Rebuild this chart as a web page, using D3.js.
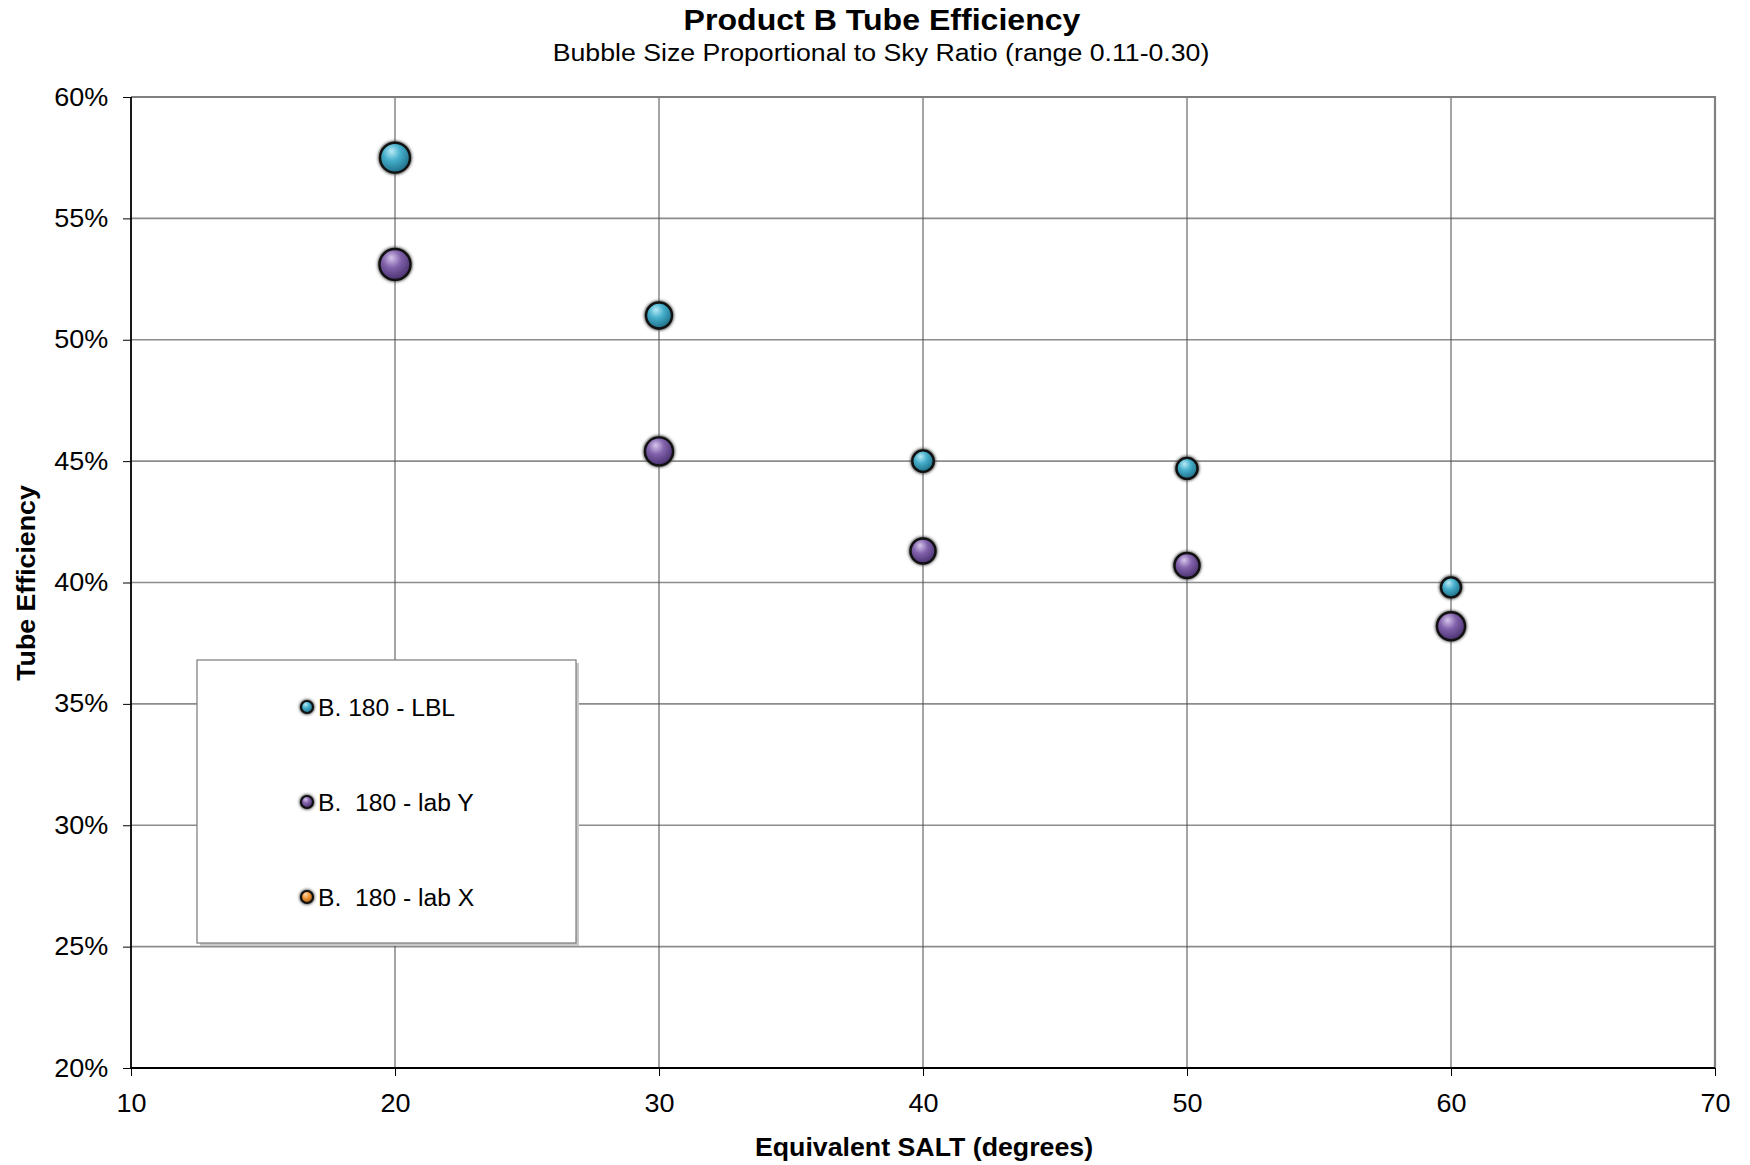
<!DOCTYPE html>
<html>
<head>
<meta charset="utf-8">
<script src="https://cdn.jsdelivr.net/npm/d3@7"></script>
<style>
  html, body { margin: 0; padding: 0; background: #fff; }
  svg { display: block; font-family: "Liberation Sans", Arial, sans-serif; }
  text { white-space: pre; }
</style>
</head>
<body>
<svg id="chart" width="1750" height="1165"></svg>
<script>
// Equivalent SALT angle (degrees) for each measurement
const saltDegrees = [20, 30, 40, 50, 60];

// Tube efficiency per series (fraction)
const lblEfficiency  = [0.575, 0.510, 0.450, 0.447, 0.398];
const labYEfficiency = [0.531, 0.454, 0.413, 0.407, 0.382];
const labXEfficiency = [];

// Sky ratio per point (drives bubble area)
const lblSkyRatio  = [0.28, 0.21, 0.143, 0.138, 0.125];
const labYSkyRatio = [0.30, 0.245, 0.195, 0.195, 0.245];
const labXSkyRatio = [];

// Legend names
const seriesNames = ["B. 180 - LBL", "B.  180 - lab Y", "B.  180 - lab X"];

// Axis ticks
const xTicks = [10, 20, 30, 40, 50, 60, 70];
const yTicks = [0.20, 0.25, 0.30, 0.35, 0.40, 0.45, 0.50, 0.55, 0.60];

const seriesColors = [
  { base: "#45aecb", light: "#b8eaf6", dark: "#1e6f87" },
  { base: "#8262ac", light: "#d6c6ec", dark: "#4a3170" },
  { base: "#f29a3c", light: "#fcd9ae", dark: "#a85c10" }
];

const series = [
  { name: seriesNames[0], x: saltDegrees.slice(0, lblEfficiency.length), y: lblEfficiency, s: lblSkyRatio },
  { name: seriesNames[1], x: saltDegrees.slice(0, labYEfficiency.length), y: labYEfficiency, s: labYSkyRatio },
  { name: seriesNames[2], x: saltDegrees.slice(0, labXEfficiency.length), y: labXEfficiency, s: labXSkyRatio }
];

const svg = d3.select("#chart");
const plot = { left: 131, top: 97, right: 1715, bottom: 1068 };

const x = d3.scaleLinear().domain([10, 70]).range([plot.left, plot.right]);
const y = d3.scaleLinear().domain([0.20, 0.60]).range([plot.bottom, plot.top]);
const r = d3.scaleSqrt().domain([0, 0.30]).range([0, 15.5]);

// Text in this chart is set slightly wide
function wideText(parent, cx, cy, sx, rotate) {
  return parent.append("text")
    .attr("transform", `translate(${cx},${cy})${rotate ? " rotate(" + rotate + ")" : ""} scale(${sx},1)`);
}

// Gradients for shaded bubbles
const defs = svg.append("defs");
seriesColors.forEach((c, i) => {
  const g = defs.append("radialGradient")
    .attr("id", "bub" + i)
    .attr("cx", "0.42").attr("cy", "0.35").attr("r", "0.65")
    .attr("fx", "0.38").attr("fy", "0.28");
  g.append("stop").attr("offset", "0%").attr("stop-color", c.light);
  g.append("stop").attr("offset", "45%").attr("stop-color", c.base);
  g.append("stop").attr("offset", "100%").attr("stop-color", c.dark);
});
const blur = defs.append("filter").attr("id", "halo").attr("x", "-50%").attr("y", "-50%").attr("width", "200%").attr("height", "200%");
blur.append("feGaussianBlur").attr("stdDeviation", 1.4);

// Titles
wideText(svg, 882, 30, 1.07)
  .attr("text-anchor", "middle")
  .attr("font-size", 30).attr("font-weight", "bold")
  .text("Product B Tube Efficiency");
wideText(svg, 881, 61, 1.09)
  .attr("text-anchor", "middle")
  .attr("font-size", 24.5)
  .text("Bubble Size Proportional to Sky Ratio (range 0.11-0.30)");

// Horizontal gridlines
svg.append("g").selectAll("line")
  .data(yTicks.slice(1))
  .join("line")
  .attr("x1", plot.left).attr("x2", plot.right)
  .attr("y1", d => y(d)).attr("y2", d => y(d))
  .attr("stroke", "#8c8c8c").attr("stroke-width", 1.6);

// Vertical gridlines
svg.append("g").selectAll("line")
  .data(xTicks.slice(1, -1))
  .join("line")
  .attr("x1", d => x(d)).attr("x2", d => x(d))
  .attr("y1", plot.top).attr("y2", plot.bottom)
  .attr("stroke", "#4a4a4a").attr("stroke-width", 1);

// Plot frame (top and right)
svg.append("path")
  .attr("d", `M${plot.left},${plot.top}H${plot.right}V${plot.bottom}`)
  .attr("fill", "none").attr("stroke", "#808080").attr("stroke-width", 2.2);

// Axes
const xAxis = d3.axisBottom(x).tickValues(xTicks).tickSize(8).tickPadding(18).tickFormat(d3.format("d"));
const yAxis = d3.axisLeft(y).tickValues(yTicks).tickSize(8).tickPadding(13).tickFormat(d3.format(".0%"));

const gx = svg.append("g").attr("transform", `translate(0,${plot.bottom})`).call(xAxis);
const gy = svg.append("g").attr("transform", `translate(${plot.left},0)`).call(yAxis);
[gx, gy].forEach(g => {
  g.select(".domain").attr("stroke", "#000").attr("stroke-width", 1.8);
  g.selectAll(".tick line").attr("stroke", "#000").attr("stroke-width", 1);
  g.selectAll(".tick text")
    .attr("font-family", "'Liberation Sans', Arial, sans-serif")
    .attr("font-size", 25).attr("fill", "#000")
    .attr("transform", "scale(1.08,1)");
});
gx.select(".domain").attr("d", `M${plot.left},0H${plot.right}`);
gy.select(".domain").attr("d", `M0,${plot.bottom}V${plot.top}`);

// Axis titles
wideText(svg, 924, 1156, 1.07)
  .attr("text-anchor", "middle")
  .attr("font-size", 25).attr("font-weight", "bold")
  .text("Equivalent SALT (degrees)");
wideText(svg, 35, 583, 1.07, -90)
  .attr("text-anchor", "middle")
  .attr("font-size", 25).attr("font-weight", "bold")
  .text("Tube Efficiency");

// Legend
const legend = svg.append("g");
legend.append("rect")
  .attr("x", 200).attr("y", 663).attr("width", 379).attr("height", 283)
  .attr("fill", "#c8c8c8");
legend.append("rect")
  .attr("x", 197).attr("y", 660).attr("width", 379).attr("height", 283)
  .attr("fill", "#fff").attr("stroke", "#7a7a7a").attr("stroke-width", 1.2);
const legendRows = [707, 802, 897];
series.forEach((s, i) => {
  const row = legend.append("g").attr("transform", `translate(307,${legendRows[i]})`);
  row.append("circle").attr("r", 7.5).attr("fill", "#333").attr("filter", "url(#halo)");
  row.append("circle").attr("r", 6).attr("fill", `url(#bub${i})`)
    .attr("stroke", "#111").attr("stroke-width", 2.2);
  wideText(row, 11, 8.5, 1.05)
    .attr("font-size", 23.5)
    .text(s.name);
});

// Bubbles
series.forEach((s, i) => {
  const pts = s.y.map((v, j) => ({ x: s.x[j], y: v, s: s.s[j] }));
  const g = svg.append("g");
  g.selectAll("circle.halo")
    .data(pts).join("circle")
    .attr("class", "halo")
    .attr("cx", d => x(d.x)).attr("cy", d => y(d.y))
    .attr("r", d => r(d.s) + 1.8)
    .attr("fill", "#3a3a3a").attr("filter", "url(#halo)");
  g.selectAll("circle.bubble")
    .data(pts).join("circle")
    .attr("class", "bubble")
    .attr("cx", d => x(d.x)).attr("cy", d => y(d.y))
    .attr("r", d => r(d.s))
    .attr("fill", `url(#bub${i})`)
    .attr("stroke", "#111").attr("stroke-width", 2.4);
});
</script>
</body>
</html>
